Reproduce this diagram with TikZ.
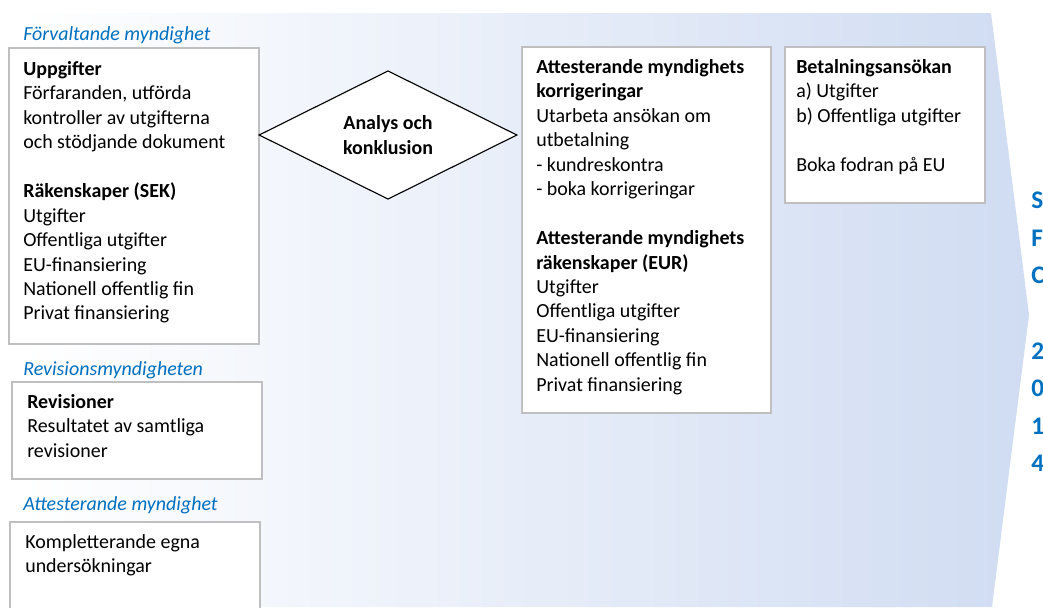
\documentclass[tikz,border=0pt]{standalone}
\usepackage{fontspec}
\setmainfont{Carlito}
\usetikzlibrary{shapes.geometric,fit}
\definecolor{labelblue}{RGB}{0,112,192}
\definecolor{boxgray}{RGB}{191,191,191}
\definecolor{bandblue}{RGB}{208,220,242}
\begin{document}
\begin{tikzpicture}[x=0.025cm,y=-0.025cm,
  box/.style={draw=boxgray,line width=0.9pt,fill=white,inner sep=0pt},
  boxtext/.style={anchor=north west,inner sep=0pt,align=left,font=\fontsize{14.2}{17.4}\selectfont},
  unitlabel/.style={anchor=west,inner sep=0pt,text=labelblue,font=\fontsize{14.2}{17.4}\itshape}]
  \useasboundingbox (0,0) rectangle (1043,607);
  \shade[left color=white,right color=bandblue]
    (20,13) -- (991,13) -- (1029,315) -- (992,607) -- (20,607) -- cycle;

  \node[unitlabel] (fmlabel) at (23,35) {Förvaltande myndighet};
  \node[box,fit={(9,48) (259,344)}] (fmbox) {};
  \node[boxtext] (fmtext) at (23,61) {\textbf{Uppgifter}\\Förfaranden, utförda\\kontroller av utgifterna\\och stödjande dokument\\[17.4pt]
    \textbf{Räkenskaper (SEK)}\\Utgifter\\Offentliga utgifter\\EU-finansiering\\Nationell offentlig fin\\Privat finansiering};

  \node[unitlabel] (rmlabel) at (23,370) {Revisionsmyndigheten};
  \node[box,fit={(12,382) (262,479)}] (rmbox) {};
  \node[boxtext] (rmtext) at (27,394) {\textbf{Revisioner}\\Resultatet av samtliga\\revisioner};

  \node[unitlabel] (amlabel) at (23,505) {Attesterande myndighet};
  \node[box,fit={(10,522) (260,625)}] (ambox) {};
  \node[boxtext] (amtext) at (25,534) {Kompletterande egna\\undersökningar};

  \node[draw,diamond,fill=white,line width=0.8pt,inner sep=0pt,minimum width=6.45cm,minimum height=3.2cm,
    align=center,font=\fontsize{14.2}{17.4}\bfseries] (analys) at (388,135) {Analys och\\konklusion};

  \node[box,fit={(522,47) (771,413)}] (korrbox) {};
  \node[boxtext] (korrtext) at (536,59) {\textbf{Attesterande myndighets}\\\textbf{korrigeringar}\\Utarbeta ansökan om\\utbetalning\\- kundreskontra\\- boka korrigeringar\\[17.4pt]
    \textbf{Attesterande myndighets}\\\textbf{räkenskaper (EUR)}\\Utgifter\\Offentliga utgifter\\EU-finansiering\\Nationell offentlig fin\\Privat finansiering};

  \node[box,fit={(785,47) (985,203)}] (betbox) {};
  \node[boxtext] (bettext) at (796,59) {\textbf{Betalningsansökan}\\a) Utgifter\\b) Offentliga utgifter\\[17.4pt]Boka fodran på EU};

  \node[anchor=north west,inner sep=0pt,align=left,text=labelblue,font=\fontsize{18}{26.7}\bfseries] (sfctext)
    at (1031,192) {S\\F\\C\\[26.7pt]2\\0\\1\\4};
\end{tikzpicture}
\end{document}
